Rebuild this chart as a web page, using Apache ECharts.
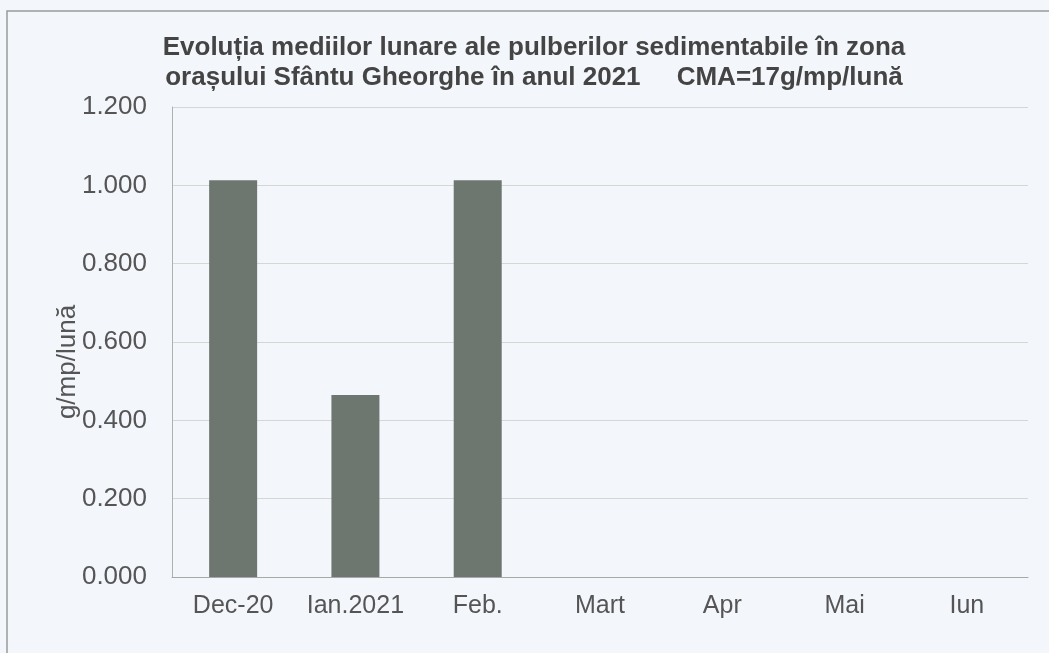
<!DOCTYPE html>
<html>
<head>
<meta charset="utf-8">
<script src="https://cdn.jsdelivr.net/npm/echarts@6/dist/echarts.min.js"></script>
<style>
html,body{margin:0;padding:0;background:#f3f6fb;}
#chart{width:1049px;height:653px;}
</style>
</head>
<body>
<div id="chart"></div>
<script>
var months = ['Dec-20', 'Ian.2021', 'Feb.', 'Mart', 'Apr', 'Mai', 'Iun'];
var values = [1.013, 0.465, 1.013, null, null, null, null];
var yTicks = {min: 0, max: 1.2, interval: 0.2};

var chart = echarts.init(document.getElementById('chart'));
var option = {
	backgroundColor: '#f3f6fb',
	animation: false,
	title: {
		text: 'Evoluția mediilor lunare ale pulberilor sedimentabile în zona\norașului Sfântu Gheorghe în anul 2021     CMA=17g/mp/lună',
		left: 529,
		top: 28,
		textAlign: 'center',
		textStyle: {
			fontFamily: 'Liberation Sans, Arial',
			fontSize: 26,
			fontWeight: 'bold',
			color: '#444',
			lineHeight: 30
		}
	},
	graphic: [{
		type: 'rect',
		shape: {x: 7, y: 11, width: 1100, height: 700},
		style: {fill: null, stroke: '#9a9a9a', lineWidth: 1.5},
		silent: true
	}],
	grid: {left: 172, right: 21, top: 107, bottom: 76},
	xAxis: {
		type: 'category',
		data: months,
		axisLine: {lineStyle: {color: '#a8a8a8'}},
		axisTick: {show: false},
		axisLabel: {
			interval: 0,
			margin: 17,
			fontFamily: 'Liberation Sans, Arial',
			fontSize: 25,
			color: '#555'
		}
	},
	yAxis: {
		type: 'value',
		min: yTicks.min,
		max: yTicks.max,
		interval: yTicks.interval,
		name: 'g/mp/lună',
		nameLocation: 'middle',
		nameGap: 91,
		nameMoveOverlap: false,
		nameTextStyle: {
			fontFamily: 'Liberation Sans, Arial',
			fontSize: 26,
			color: '#555',
			padding: [0, 40, 0, 0]
		},
		axisLine: {show: true, lineStyle: {color: '#b0b0b0'}},
		axisTick: {show: false},
		splitLine: {lineStyle: {color: '#d6d6d6'}},
		axisLabel: {
			margin: 25,
			fontFamily: 'Liberation Sans, Arial',
			fontSize: 26,
			color: '#555',
			formatter: function(v){ return v.toFixed(3); }
		}
	},
	series: [{
		type: 'bar',
		data: values,
		barWidth: 48,
		itemStyle: {color: '#6e7670'}
	}]
};
chart.setOption(option);
</script>
</body>
</html>
